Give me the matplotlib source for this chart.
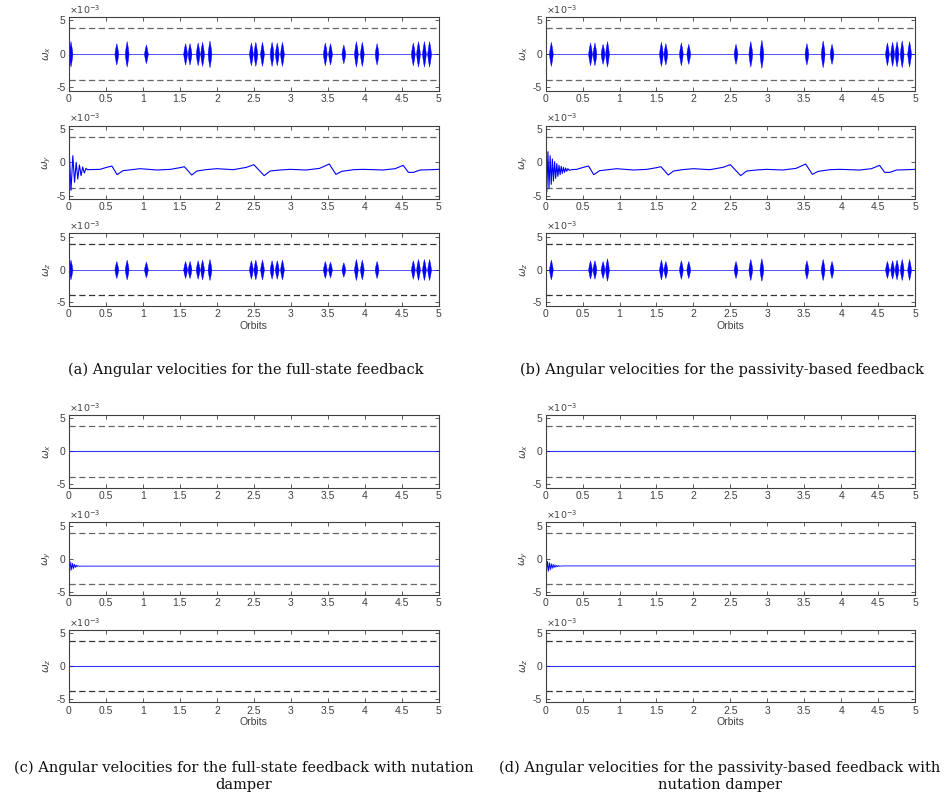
import matplotlib
matplotlib.use("Agg")
import matplotlib.pyplot as plt

plt.rcParams["font.family"] = ["Liberation Sans", "DejaVu Sans"]
plt.rcParams["mathtext.fontset"] = "dejavusans"

# ---------------------------------------------------------------- data
orbit_ticks = [0, 0.5, 1, 1.5, 2, 2.5, 3, 3.5, 4, 4.5, 5]
orbit_tick_labels = ["0", "0.5", "1", "1.5", "2", "2.5", "3", "3.5", "4", "4.5", "5"]
omega_ticks = [-5, 0, 5]                      # x 1e-3 rad/s
omega_limit = 3.85                            # x 1e-3 rad/s, rate bound

# actuation bursts (centre in orbits, half amplitude in 1e-3 rad/s)
fs_burst_t = [0.02, 0.64, 0.78, 1.04, 1.57, 1.63, 1.74, 1.80, 1.90, 2.46, 2.52, 2.61,
              2.74, 2.81, 2.88, 3.46, 3.53, 3.71, 3.88, 3.96, 4.16, 4.65, 4.72, 4.80, 4.87]
fs_wx_amp = [1.9, 1.6, 1.9, 1.4, 1.6, 1.6, 1.7, 1.8, 2.0, 1.7, 1.8, 1.8,
             1.8, 1.7, 1.8, 1.7, 1.6, 1.4, 1.9, 1.8, 1.6, 1.7, 1.9, 1.9, 1.9]
fs_wz_amp = [1.5, 1.3, 1.5, 1.2, 1.3, 1.3, 1.4, 1.5, 1.6, 1.4, 1.5, 1.5,
             1.4, 1.4, 1.5, 1.3, 1.2, 1.1, 1.6, 1.5, 1.3, 1.4, 1.6, 1.6, 1.6]

pb_burst_t = [0.07, 0.60, 0.66, 0.77, 0.83, 1.56, 1.62, 1.83, 1.93, 2.57,
              2.77, 2.92, 3.53, 3.75, 3.87, 4.62, 4.69, 4.75, 4.82, 4.92]
pb_wx_amp = [1.8, 1.7, 1.7, 1.5, 1.9, 1.8, 1.6, 1.7, 1.5, 1.5,
             1.9, 2.1, 1.6, 2.0, 1.5, 1.7, 1.8, 1.9, 2.0, 1.9]
pb_wz_amp = [1.5, 1.4, 1.4, 1.3, 1.7, 1.5, 1.3, 1.4, 1.3, 1.3,
             1.6, 1.7, 1.4, 1.6, 1.3, 1.3, 1.4, 1.5, 1.6, 1.6]

# pitch rate, orbital part after the initial transient
wy_slow_t = [0.42, 0.51, 0.58, 0.65, 0.73, 0.85, 0.96, 1.19, 1.37, 1.50, 1.56, 1.66,
             1.73, 1.85, 2.00, 2.22, 2.40, 2.50, 2.64, 2.72, 2.85, 2.99, 3.21, 3.39,
             3.52, 3.61, 3.69, 3.85, 3.98, 4.25, 4.41, 4.52, 4.59, 4.66, 4.75, 4.90, 5.00]
wy_slow_v = [-1.05, -0.75, -0.55, -1.85, -1.25, -1.10, -0.95, -1.15, -1.05, -0.80, -0.65, -1.90,
             -1.30, -1.10, -0.95, -1.10, -0.75, -0.35, -2.00, -1.30, -1.15, -1.05, -1.15, -0.90,
             -0.25, -1.80, -1.35, -1.10, -1.05, -1.15, -0.95, -0.45, -1.50, -1.50, -1.15, -1.10, -1.05]

# pitch rate transients
fs_wy_t = [0, 0.027, 0.052, 0.075, 0.097, 0.119, 0.141, 0.163, 0.185, 0.207, 0.229, 0.25]
fs_wy_v = [2.5, -4.2, 1.0, -3.0, 0.0, -2.5, -0.4, -2.0, -0.7, -1.6, -0.9, -1.1]

pb_wy_t = [0, 0.015, 0.03, 0.045, 0.06, 0.075, 0.09, 0.105, 0.12, 0.135, 0.15, 0.165,
           0.18, 0.195, 0.21, 0.225, 0.24, 0.255, 0.27, 0.285, 0.30, 0.32, 0.35]
pb_wy_v = [2.5, -4.4, 1.6, -3.9, 1.0, -3.3, 0.5, -2.8, 0.1, -2.4, -0.2, -2.1,
           -0.45, -1.85, -0.6, -1.65, -0.75, -1.5, -0.85, -1.35, -0.95, -1.2, -1.1]

fsn_wy_t = [0, 0.012, 0.024, 0.036, 0.048, 0.06, 0.072, 0.084, 0.096, 0.108, 0.12, 0.14, 0.17, 5.0]
fsn_wy_v = [-0.3, -1.9, -0.5, -1.7, -0.7, -1.5, -0.85, -1.35, -0.95, -1.25, -1.05, -1.15, -1.13, -1.13]

pbn_wy_t = [0, 0.012, 0.025, 0.037, 0.05, 0.062, 0.075, 0.087, 0.1, 0.112, 0.125, 0.137,
            0.15, 0.162, 0.175, 0.19, 0.21, 0.24, 5.0]
pbn_wy_v = [-0.1, -2.2, -0.4, -1.9, -0.6, -1.7, -0.75, -1.5, -0.85, -1.38, -0.95, -1.28,
            -1.0, -1.22, -1.05, -1.17, -1.1, -1.1, -1.1]

flat_t = [0, 5]
flat_v = [0, 0]

captions = [
    "(a) Angular velocities for the full-state feedback",
    "(b) Angular velocities for the passivity-based feedback",
    "(c) Angular velocities for the full-state feedback with nutation\ndamper",
    "(d) Angular velocities for the passivity-based feedback with\nnutation damper",
]
axis_names = [r"$\omega_x$", r"$\omega_y$", r"$\omega_z$"]

# ---------------------------------------------------------------- style
W, H = 952, 801
BLUE = "#0000ff"
AX_COL = "#404040"
BURST_DX = [-1, -0.75, -0.5, -0.25, 0, 0.25, 0.5, 0.75, 1]
BURST_ENV = [0, 0.32, 0.58, 0.8, 1, 0.8, 0.58, 0.32, 0]
BURST_HALF = 0.026

col_x = [(69, 438.7), (545.7, 915)]
rows_top = [(17, 90.7), (125.7, 199), (233.3, 305.7)]
rows_bot = [(415, 487.7), (522.3, 595), (630, 702.3)]

fig = plt.figure(figsize=(W / 100, H / 100), dpi=100)


def make_axes(xpx, ypx):
    l, r = xpx
    t, b = ypx
    ax = fig.add_axes([l / W, 1 - b / H, (r - l) / W, (b - t) / H])
    ax.set_xlim(0, 5)
    ax.set_ylim(-5.5, 5.5)
    ax.set_xticks(orbit_ticks)
    ax.set_xticklabels(orbit_tick_labels)
    ax.set_yticks(omega_ticks)
    ax.set_yticklabels([str(v) for v in omega_ticks])
    ax.tick_params(direction="in", length=3, width=0.6, colors=AX_COL,
                   labelsize=7.5, top=True, right=True, pad=2.5)
    for s in ax.spines.values():
        s.set_color(AX_COL)
        s.set_linewidth(0.8)
    ax.text(0.0, 1.02, r"$\times10^{-3}$", transform=ax.transAxes,
            fontsize=6.8, color=AX_COL, ha="left", va="bottom")
    return ax


def limits(ax, dark=False):
    c = "#333333" if dark else "#666666"
    for y in (omega_limit, -omega_limit):
        ax.axhline(y, color=c, lw=0.9, dashes=(5, 2.8))


def bursts(ax, centres, amps):
    for c, a in zip(centres, amps):
        xs = [c + BURST_HALF * d for d in BURST_DX]
        env = [a * e for e in BURST_ENV]
        ax.fill_between(xs, [-e for e in env], env, color=BLUE, lw=0.3)


panels = [
    dict(col=0, rows=rows_top, bt=fs_burst_t, ax_amp=fs_wx_amp, az_amp=fs_wz_amp,
         wy_t=fs_wy_t + wy_slow_t, wy_v=fs_wy_v + wy_slow_v, cap=captions[0]),
    dict(col=1, rows=rows_top, bt=pb_burst_t, ax_amp=pb_wx_amp, az_amp=pb_wz_amp,
         wy_t=pb_wy_t + wy_slow_t, wy_v=pb_wy_v + wy_slow_v, cap=captions[1]),
    dict(col=0, rows=rows_bot, bt=None, wy_t=fsn_wy_t, wy_v=fsn_wy_v, cap=captions[2]),
    dict(col=1, rows=rows_bot, bt=None, wy_t=pbn_wy_t, wy_v=pbn_wy_v, cap=captions[3]),
]

cap_pos = [(246, 370), (722, 370), (244, 776), (720, 776)]

for p, (cx, cy) in zip(panels, cap_pos):
    for i in range(3):
        ax = make_axes(col_x[p["col"]], p["rows"][i])
        ax.set_ylabel(axis_names[i], fontsize=7.5, color=AX_COL, labelpad=2)
        limits(ax, dark=(i == 2))
        if i == 1:
            ax.plot(p["wy_t"], p["wy_v"], color=BLUE, lw=0.8 if p["bt"] else 0.6)
        else:
            ax.plot(flat_t, flat_v, color=BLUE, lw=0.6 if p["bt"] else 0.8, alpha=0.8)
            if p["bt"] is not None:
                bursts(ax, p["bt"], p["ax_amp"] if i == 0 else p["az_amp"])
        if i == 2:
            ax.set_xlabel("Orbits", fontsize=7.5, color=AX_COL, labelpad=1)
    fig.text(cx / W, 1 - cy / H, p["cap"], ha="center", va="center",
             family="DejaVu Serif", fontsize=10.5, color="#111111", linespacing=1.3)

fig.savefig("out.png", dpi=100)
